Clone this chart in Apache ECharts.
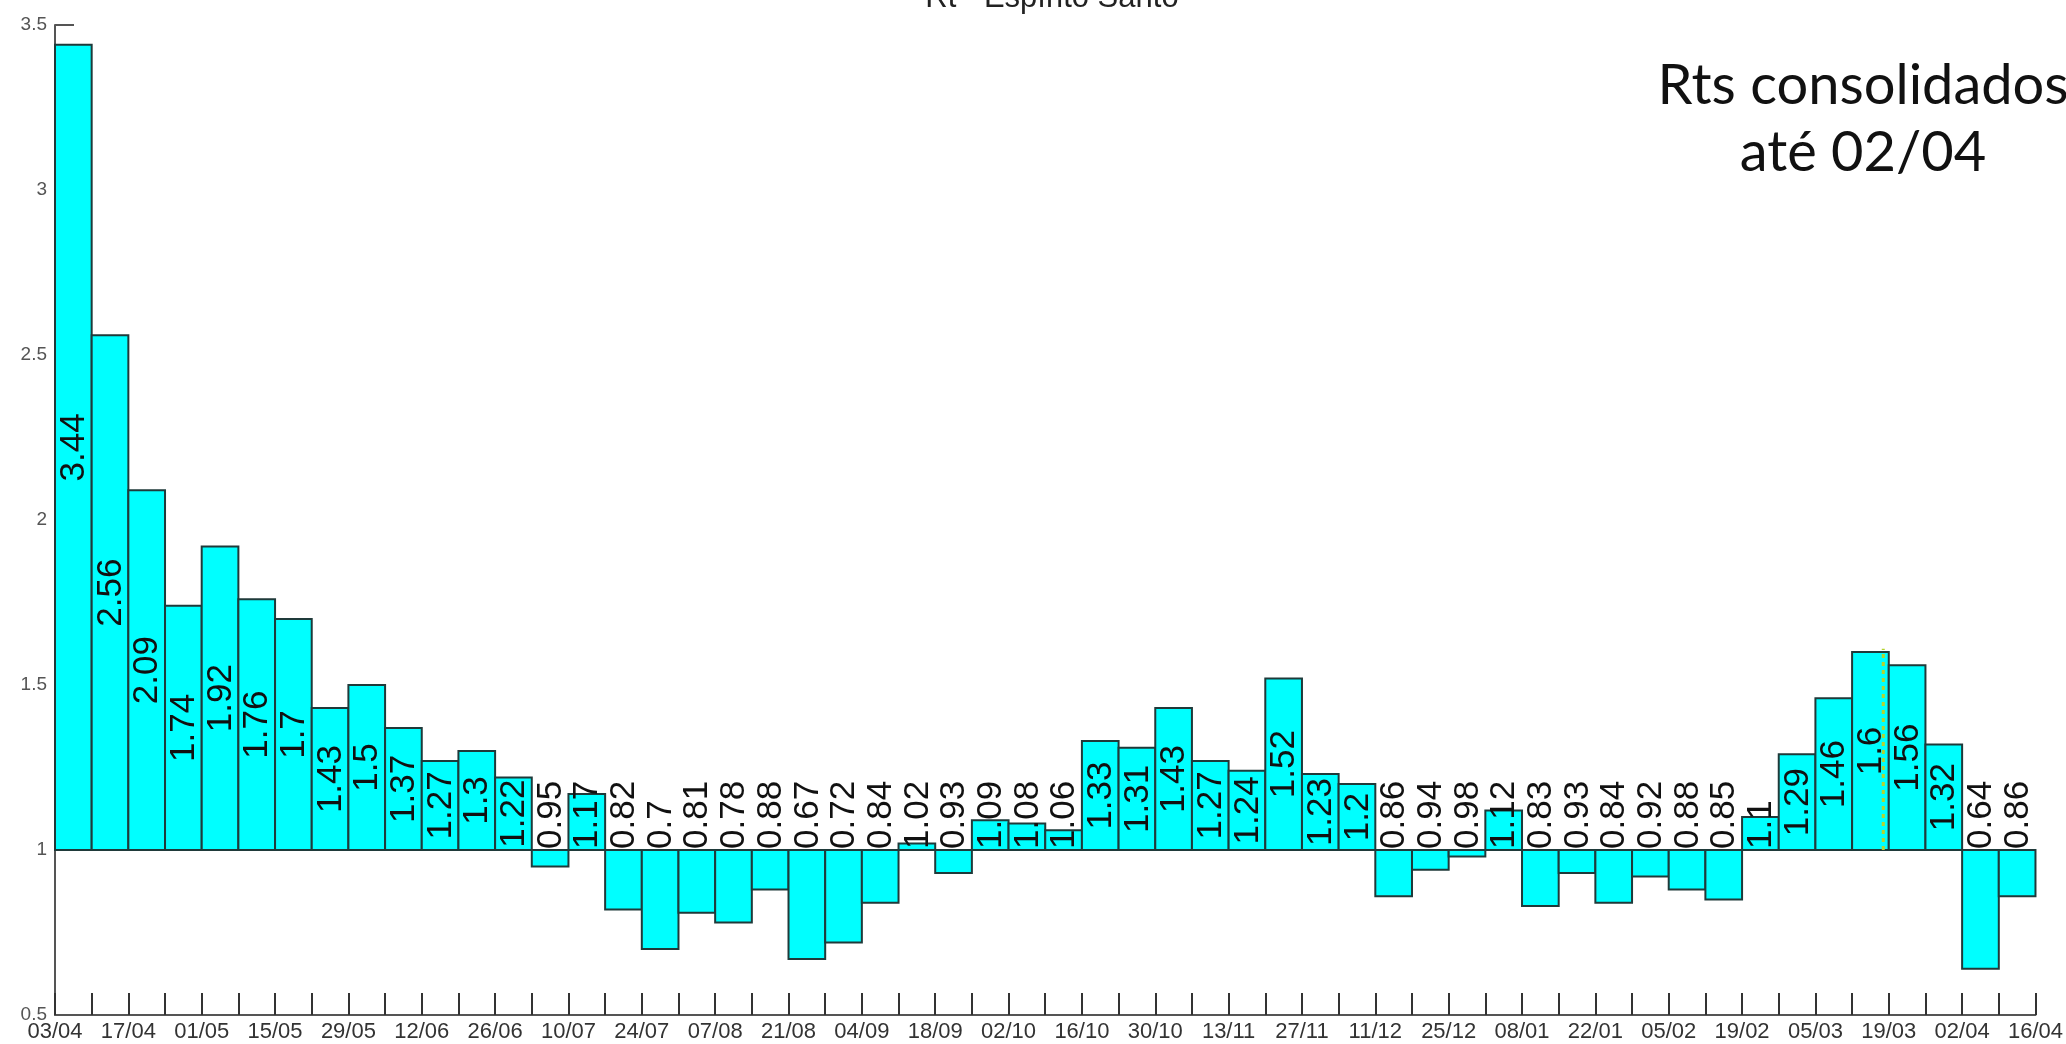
<!DOCTYPE html>
<html>
<head>
<meta charset="utf-8">
<script src="https://cdn.jsdelivr.net/npm/echarts@6/dist/echarts.min.js"></script>
<style>
html,body{margin:0;padding:0;background:#fff;}
#chart{width:2066px;height:1044px;}
</style>
</head>
<body>
<div id="chart"></div>
<script>
// ---- data ----
const chartTitle = 'Rt - Espírito Santo';
const noteLines = ['Rts consolidados', 'até 02/04'];
// tick labels at every second week boundary (index 0, 2, 4, ... 54)
const dateLabels = ['03/04','17/04','01/05','15/05','29/05','12/06','26/06','10/07','24/07','07/08',
  '21/08','04/09','18/09','02/10','16/10','30/10','13/11','27/11','11/12','25/12',
  '08/01','22/01','05/02','19/02','05/03','19/03','02/04','16/04'];
// weekly Rt values, one per week starting 03/04
const rtValues = [3.44,2.56,2.09,1.74,1.92,1.76,1.7,1.43,1.5,1.37,
  1.27,1.3,1.22,0.95,1.17,0.82,0.7,0.81,0.78,0.88,
  0.67,0.72,0.84,1.02,0.93,1.09,1.08,1.06,1.33,1.31,
  1.43,1.27,1.24,1.52,1.23,1.2,0.86,0.94,0.98,1.12,
  0.83,0.93,0.84,0.92,0.88,0.85,1.1,1.29,1.46,1.6,
  1.56,1.32,0.64,0.86];
const baseline = 1;
const yMin = 0.5, yMax = 3.5, yStep = 0.5;
const markerX = [49.85, 49.85];
const markerY = [1, 1.61];

// ---- chart ----
const chart = echarts.init(document.getElementById('chart'));
const labelFont = 35;
function textLen(s, fs) {
  let w = 0;
  for (const c of s) w += (c === '.' ? 0.278 : 0.556);
  return w * fs;
}
const barData = rtValues.map((v, i) => [i, v]);

chart.setOption({
  animation: false,
  backgroundColor: '#ffffff',
  title: {
    text: chartTitle,
    left: 1047,
    top: -22,
    textAlign: 'center',
    textStyle: {fontFamily: 'Liberation Sans', fontSize: 31, fontWeight: 'normal', color: '#222'}
  },
  grid: {left: 55, right: 26, top: 25, bottom: 29, containLabel: false},
  xAxis: {
    type: 'value', min: 0, max: rtValues.length, interval: 1,
    axisLine: {show: true, lineStyle: {color: '#555', width: 2}},
    axisTick: {show: true, inside: true, length: 22, lineStyle: {color: '#333', width: 2}},
    splitLine: {show: false},
    axisLabel: {
      margin: 6,
      color: '#333',
      fontFamily: "'Liberation Sans Narrow','Liberation Sans',Arial",
      fontSize: 22,
      showMinLabel: true, showMaxLabel: true,
      formatter: v => (v % 2 === 0 ? dateLabels[v / 2] : '')
    }
  },
  yAxis: {
    type: 'value', min: yMin, max: yMax, interval: yStep,
    axisLine: {show: true, lineStyle: {color: '#555', width: 2}},
    axisTick: {show: true, inside: true, length: 19, lineStyle: {color: '#555', width: 2}},
    splitLine: {show: false},
    axisLabel: {margin: 8, color: '#555', fontFamily: 'Liberation Sans', fontSize: 19,
      formatter: v => String(v)}
  },
  graphic: [{
    type: 'text', x: 1863, y: 52, z: 100,
    style: {
      text: noteLines.join('\n'),
      font: '56px Lato',
      lineHeight: 67,
      fill: '#111',
      align: 'center',
      verticalAlign: 'top'
    }
  }],
  series: [{
    type: 'custom',
    data: barData,
    encode: {x: 0, y: 1},
    z: 2,
    renderItem: function (params, api) {
      const i = api.value(0), v = api.value(1);
      const p0 = api.coord([i, baseline]);
      const p1 = api.coord([i + 1, v]);
      const top = Math.min(p0[1], p1[1]);
      const h = Math.abs(p1[1] - p0[1]);
      const txt = String(v);
      const len = textLen(txt, labelFont);
      const midY = (p0[1] + p1[1]) / 2;
      const startY = Math.min(midY + len / 2, p0[1] - 1);
      return {
        type: 'group',
        children: [{
          type: 'rect',
          shape: {x: p0[0], y: top, width: p1[0] - p0[0], height: h},
          style: {fill: '#00ffff', stroke: '#1f3a3a', lineWidth: 2}
        }, {
          type: 'text',
          x: (p0[0] + p1[0]) / 2 + 1,
          y: startY,
          rotation: Math.PI / 2,
          z2: 10,
          style: {
            text: txt,
            font: labelFont + 'px "Liberation Sans", Arial',
            fill: '#111',
            align: 'left',
            verticalAlign: 'middle'
          }
        }]
      };
    }
  }, {
    type: 'line',
    data: markerX.map((x, k) => [x, markerY[k]]),
    symbol: 'none',
    z: 5,
    lineStyle: {color: '#b5d22e', width: 3, type: [4, 4]}
  }]
});
</script>
</body>
</html>
